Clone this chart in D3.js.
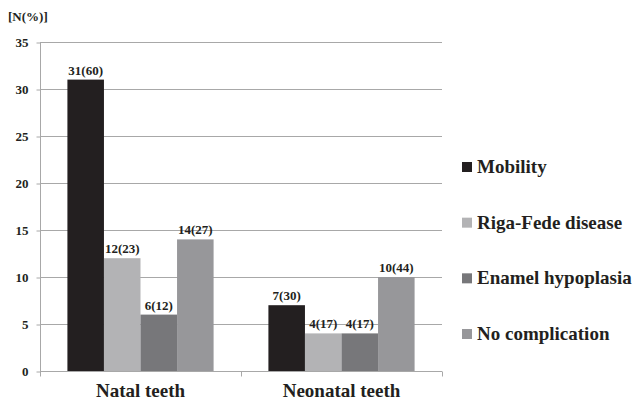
<!DOCTYPE html>
<html><head><meta charset="utf-8">
<script src="https://cdn.jsdelivr.net/npm/d3@7"></script>
<style>body{margin:0;background:#fff}svg{display:block}text{font-weight:bold;fill:#231f20}</style>
</head><body>
<svg id="c" width="633" height="404"></svg>
<script>
const categories = ["Natal teeth", "Neonatal teeth"];
const seriesNames = ["Mobility", "Riga-Fede disease", "Enamel hypoplasia", "No complication"];
const mobility = [31, 7];
const rigaFede = [12, 4];
const enamel = [6, 4];
const noComp = [14, 10];
const mobilityPct = [60, 30];
const rigaFedePct = [23, 17];
const enamelPct = [12, 17];
const noCompPct = [27, 44];
const yTicks = [0, 5, 10, 15, 20, 25, 30, 35];
const colors = ["#231f20", "#b3b3b5", "#77777a", "#97979a"];

const values = [mobility, rigaFede, enamel, noComp];
const pcts = [mobilityPct, rigaFedePct, enamelPct, noCompPct];
const FONT = "'Liberation Serif', Tinos, 'Times New Roman', 'DejaVu Serif', serif";

const svg = d3.select("#c");
const pLeft = 40, pRight = 442, pTop = 42, pBottom = 371;
const y = d3.scaleLinear().domain([0, 35]).range([pBottom, pTop]);
const x0 = d3.scaleBand().domain(categories).range([pLeft, pRight]).paddingInner(0).paddingOuter(0);
const x1 = d3.scaleBand().domain(seriesNames).range([0, x0.bandwidth()]).paddingOuter(0.75).paddingInner(0);
const grid = "#a8a8a8";

// gridlines
svg.append("g").selectAll("line").data(yTicks.filter(t => t > 0)).join("line")
  .attr("x1", pLeft).attr("x2", pRight).attr("y1", d => y(d) + 0.5).attr("y2", d => y(d) + 0.5)
  .attr("stroke", grid).attr("stroke-width", 1);

// y axis
const ya = svg.append("g").attr("transform", `translate(${pLeft + 0.5},0)`)
  .call(d3.axisLeft(y).tickValues(yTicks).tickSize(4).tickPadding(8).tickFormat(d3.format("d")));
ya.attr("font-family", null);
ya.select(".domain").attr("stroke", grid).attr("d", `M0,${pTop}V${pBottom}`);
ya.selectAll(".tick line").attr("stroke", grid).attr("transform", "translate(0,0.5)");
ya.selectAll(".tick text").attr("font-size", 13).style("font-family", FONT).attr("font-weight", "bold").attr("fill", "#231f20");

// bars
categories.forEach((c, ci) => {
  const g = svg.append("g").attr("transform", `translate(${x0(c)},0)`);
  seriesNames.forEach((s, si) => {
    const v = values[si][ci];
    g.append("rect").attr("x", x1(s)).attr("width", x1.bandwidth())
      .attr("y", y(v)).attr("height", y(0) - y(v)).attr("fill", colors[si]);
    g.append("text").attr("x", x1(s) + x1.bandwidth() / 2).attr("y", y(v) - 5)
      .attr("text-anchor", "middle").attr("font-size", 13).style("font-family", FONT)
      .text(`${v}(${pcts[si][ci]})`);
  });
});

// x axis
const xa = svg.append("g").attr("transform", `translate(0,${pBottom + 0.5})`);
xa.append("line").attr("x1", pLeft).attr("x2", pRight).attr("stroke", grid);
[pLeft, pLeft + x0.bandwidth(), pRight].forEach(xv => {
  xa.append("line").attr("x1", Math.round(xv) + 0.5).attr("x2", Math.round(xv) + 0.5).attr("y1", 0).attr("y2", 5).attr("stroke", grid);
});
categories.forEach(c => {
  svg.append("text").attr("x", x0(c) + x0.bandwidth() / 2).attr("y", 397)
    .attr("text-anchor", "middle").attr("font-size", 19).style("font-family", FONT).text(c);
});

// y title
svg.append("text").attr("x", 8).attr("y", 21).attr("font-size", 13).style("font-family", FONT).text("[N(%)]");

// legend
const ly = d3.scalePoint().domain(seriesNames).range([173, 340]);
seriesNames.forEach((s, si) => {
  svg.append("rect").attr("x", 462).attr("y", ly(s) - 11).attr("width", 10).attr("height", 10).attr("fill", colors[si]);
  svg.append("text").attr("x", 477).attr("y", ly(s)).attr("font-size", 19).style("font-family", FONT).text(s);
});
</script>
</body></html>
